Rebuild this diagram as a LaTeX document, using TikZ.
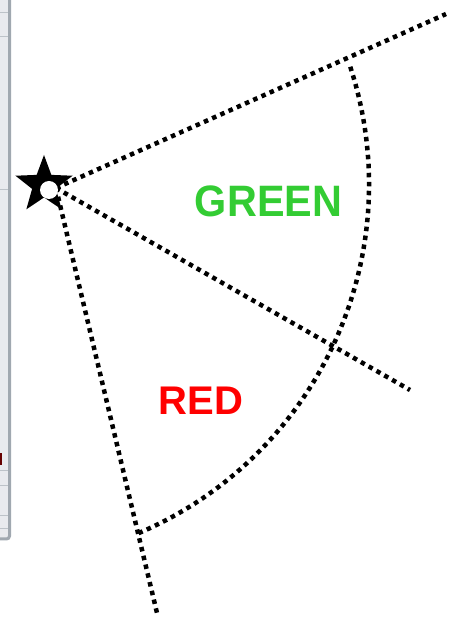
\documentclass[tikz,border=0pt]{standalone}
\usepackage{fontspec}
\setmainfont{Liberation Sans}
\definecolor{lblgreen}{RGB}{51,204,51}
\definecolor{framegrey}{RGB}{160,168,176}
\definecolor{panelgrey}{RGB}{232,234,238}
\begin{document}
\begin{tikzpicture}[x=1pt,y=1pt,
  dotline/.style={line width=4.5pt, line cap=butt, dash pattern=on 4.5pt off 4.5pt, black},
  lbl/.style={font=\bfseries, inner sep=0pt}]
\useasboundingbox (0,0) rectangle (450,619);
% window frame at left edge
\fill[panelgrey] (0,79) rectangle (9,619);
\draw[framegrey, line width=3pt, rounded corners=3pt] (9.5,619) -- (9.5,80) -- (0,80);
\foreach \yy in {607,583,430,149,134,104,91} \draw[framegrey!70, line width=0.8pt] (0,\yy) -- (8,\yy);
\fill[red!40!black] (0,154) rectangle (2,166);
% geometry
\coordinate (O) at (56,431);
\coordinate (E1) at (446,605);
\coordinate (E2) at (410,229);
\coordinate (E3) at (157,6);
\coordinate (C) at (-10,434.5);
\draw[dotline] (O) -- (E1);
\draw[dotline] (O) -- (E2);
\draw[dotline] (O) -- (E3);
\draw[dotline] (C) ++(18.1:379) arc[start angle=18.1, end angle=-67, radius=379];
% star
\fill[black, shift={(44,434)}] (90:30) -- (126:12.5) -- (162:30) -- (198:12.5) -- (234:30) -- (270:12.5) -- (306:30) -- (342:12.5) -- (18:30) -- (54:12.5) -- cycle;
\fill[white] (49,429) circle (9);
% labels
\node[lbl, text=lblgreen, font=\fontsize{44}{44}\selectfont\bfseries, xscale=0.94] (green) at (268.5,418) {GREEN};
\node[lbl, text=red, font=\fontsize{40}{40}\selectfont\bfseries] (red) at (201,218) {RED};
\end{tikzpicture}
\end{document}
